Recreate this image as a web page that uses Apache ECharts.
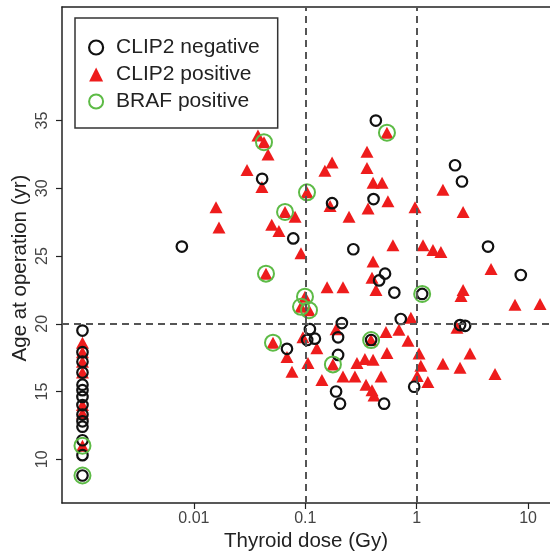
<!DOCTYPE html>
<html>
<head>
    <meta charset="utf-8">
    <title>CLIP2 / BRAF</title>
    <script src="https://cdn.jsdelivr.net/npm/echarts@6/dist/echarts.min.js"></script>
    <style>
        html, body { margin: 0; padding: 0; background: #fff; }
    </style>
</head>
<body>
<div id="main" style="width: 550px;height: 551px;"></div>
<script>
    // unexposed cases (dose 0) sit at 0.001 Gy in the column on the left
    var clip2Negative = [
        [0.001, 19.5], [0.001, 17.9], [0.001, 17.2], [0.001, 16.4], [0.001, 15.5], [0.001, 15.1],
        [0.001, 14.6], [0.001, 14.0], [0.001, 13.3], [0.001, 12.8], [0.001, 12.4], [0.001, 11.4],
        [0.001, 10.3], [0.001, 8.8],
        [0.0078, 25.7], [0.041, 30.7], [0.078, 26.3], [0.174, 28.9], [0.43, 35.0], [0.41, 29.2],
        [0.27, 25.5], [0.52, 23.7], [0.46, 23.2], [0.63, 22.3], [1.12, 22.2], [2.21, 31.7],
        [2.55, 30.5], [4.37, 25.7], [8.6, 23.6], [2.45, 19.9], [2.72, 19.85], [0.72, 20.35],
        [0.213, 20.05], [0.11, 19.6], [0.104, 18.8], [0.122, 18.9], [0.197, 19.0], [0.39, 18.8],
        [0.0685, 18.15], [0.197, 17.7], [0.189, 15.0], [0.205, 14.1], [0.51, 14.1], [0.95, 15.35]
    ];
    var clip2Positive = [
        [0.001, 18.6], [0.001, 17.9], [0.001, 17.2], [0.001, 16.4], [0.001, 14.0], [0.001, 13.4],
        [0.001, 11.0],
        [0.0376, 33.9], [0.0426, 33.4], [0.0463, 32.5], [0.030, 31.35], [0.0408, 30.1], [0.0158, 28.6],
        [0.0168, 27.1], [0.0658, 28.25], [0.081, 27.9], [0.050, 27.3], [0.058, 26.85], [0.0915, 25.2],
        [0.0444, 23.7], [0.1036, 29.7], [0.541, 34.1], [0.358, 32.7], [0.174, 31.9], [0.150, 31.3],
        [0.358, 31.5], [0.406, 30.4], [0.489, 30.4], [0.167, 28.7], [0.552, 29.05], [0.366, 28.5],
        [0.247, 27.9], [0.966, 28.6], [0.612, 25.8], [0.406, 24.6], [1.14, 25.8], [1.40, 25.45],
        [1.65, 25.3], [1.72, 29.9], [2.61, 28.25], [4.65, 24.05], [2.61, 22.5], [2.50, 22.05],
        [7.63, 21.4], [12.8, 21.45], [0.397, 23.4], [0.431, 22.5], [0.157, 22.7], [0.218, 22.7],
        [0.0994, 22.0], [0.0915, 21.25], [0.108, 21.0], [0.887, 20.45], [2.30, 19.7], [0.189, 19.6],
        [0.0953, 19.0], [0.127, 18.2], [0.1057, 17.1], [0.141, 15.85], [0.0513, 18.6], [0.0685, 17.55],
        [0.076, 16.45], [0.177, 17.0], [0.218, 16.1], [0.279, 16.1], [0.291, 17.1], [0.343, 17.4],
        [0.406, 17.35], [0.351, 15.5], [0.397, 15.1], [0.414, 14.7], [0.479, 16.1], [0.541, 17.85],
        [0.53, 19.4], [0.693, 19.55], [0.836, 18.75], [1.05, 17.8], [1.09, 16.9], [1.01, 16.15],
        [1.26, 15.7], [1.72, 17.05], [2.45, 16.75], [3.01, 17.8], [5.05, 16.3], [0.389, 18.8]
    ];
    var brafPositive = [
        [0.001, 11.0], [0.001, 8.8], [0.0426, 33.4], [0.0658, 28.25], [0.0444, 23.7], [0.1036, 29.7],
        [0.541, 34.1], [0.0994, 22.0], [0.0915, 21.25], [0.108, 21.0], [0.0513, 18.6], [0.177, 17.0],
        [0.39, 18.8], [1.12, 22.2]
    ];
    var doseTicks = [0.01, 0.1, 1, 10];
    var ageTicks = [10, 15, 20, 25, 30, 35];
    var cutLinesDose = [0.1, 1];
    var cutLineAge = 20;

    var font = 'Liberation Sans, Arial, sans-serif';
    var doseMin = 0.000655, doseMax = 15.73;

    var myChart = echarts.init(document.getElementById('main'));
    var option = {
        animation: false,
        backgroundColor: '#fff',
        grid: { left: 62, top: 7, right: 0, bottom: 48, outerBoundsMode: 'none' },
        legend: {
            orient: 'vertical',
            left: 75, top: 18,
            padding: [19, 18, 16, 13],
            itemWidth: 14, itemHeight: 14, itemGap: 6,
            backgroundColor: '#fff',
            borderColor: '#333', borderWidth: 1.5,
            textStyle: { fontFamily: font, fontSize: 21, color: '#222', lineHeight: 20, padding: [0, 0, 0, 8] },
            data: [
                { name: 'CLIP2 negative', icon: 'circle',
                  itemStyle: { color: 'rgba(0,0,0,0)', borderColor: '#111', borderWidth: 2.2 } },
                { name: 'CLIP2 positive', icon: 'triangle', itemStyle: { color: '#EE1C1C' } },
                { name: 'BRAF positive', icon: 'circle',
                  itemStyle: { color: 'rgba(0,0,0,0)', borderColor: '#5DBB46', borderWidth: 2 } }
            ]
        },
        xAxis: [
            {
                type: 'log',
                logBase: 10,
                min: doseMin,
                max: doseMax,
                name: 'Thyroid dose (Gy)',
                nameLocation: 'middle',
                nameGap: 28,
                nameMoveOverlap: false,
                nameTextStyle: { fontFamily: font, fontSize: 20.5, color: '#222' },
                splitLine: { show: false },
                axisLine: { lineStyle: { color: '#222', width: 1.5 } },
                axisTick: { customValues: doseTicks, length: 6, lineStyle: { color: '#222', width: 1.2 } },
                axisLabel: {
                    customValues: doseTicks,
                    margin: 8,
                    fontFamily: font, fontSize: 16, color: '#444',
                    formatter: function (v) { return String(v); }
                }
            },
            {
                // top edge of the box
                type: 'log',
                logBase: 10,
                position: 'top',
                min: doseMin,
                max: doseMax,
                splitLine: { show: false },
                axisLine: { lineStyle: { color: '#222', width: 1.5 } },
                axisTick: { show: false },
                axisLabel: { show: false }
            }
        ],
        yAxis: {
            type: 'value',
            min: 6.77,
            max: 43.38,
            name: 'Age at operation (yr)',
            nameLocation: 'middle',
            nameGap: 31,
            nameMoveOverlap: false,
            nameTextStyle: { fontFamily: font, fontSize: 20.5, color: '#222', padding: [0, 26, 0, 0] },
            splitLine: { show: false },
            axisLine: { lineStyle: { color: '#222', width: 1.5 } },
            axisTick: { customValues: ageTicks, length: 6, lineStyle: { color: '#222', width: 1.2 } },
            axisLabel: {
                customValues: ageTicks,
                rotate: 90,
                margin: 11,
                fontFamily: font, fontSize: 16, color: '#444'
            }
        },
        series: [
            {
                name: 'CLIP2 positive',
                type: 'scatter',
                symbol: 'triangle',
                symbolSize: [13, 12],
                itemStyle: { color: '#EE1C1C', opacity: 1 },
                data: clip2Positive,
                markLine: {
                    silent: true,
                    symbol: 'none',
                    label: { show: false },
                    lineStyle: { color: '#555', width: 2, type: [7, 5] },
                    data: cutLinesDose.map(function (d) { return { xAxis: d }; })
                        .concat([{ yAxis: cutLineAge }])
                }
            },
            {
                name: 'CLIP2 negative',
                type: 'scatter',
                symbol: 'circle',
                symbolSize: 10.5,
                itemStyle: { color: 'rgba(0,0,0,0)', borderColor: '#111', borderWidth: 2.2, opacity: 1 },
                data: clip2Negative
            },
            {
                name: 'BRAF positive',
                type: 'scatter',
                symbol: 'circle',
                symbolSize: 16,
                itemStyle: { color: 'rgba(0,0,0,0)', borderColor: '#5DBB46', borderWidth: 2, opacity: 1 },
                data: brafPositive
            }
        ]
    };
    myChart.setOption(option);
</script>
</body>
</html>
